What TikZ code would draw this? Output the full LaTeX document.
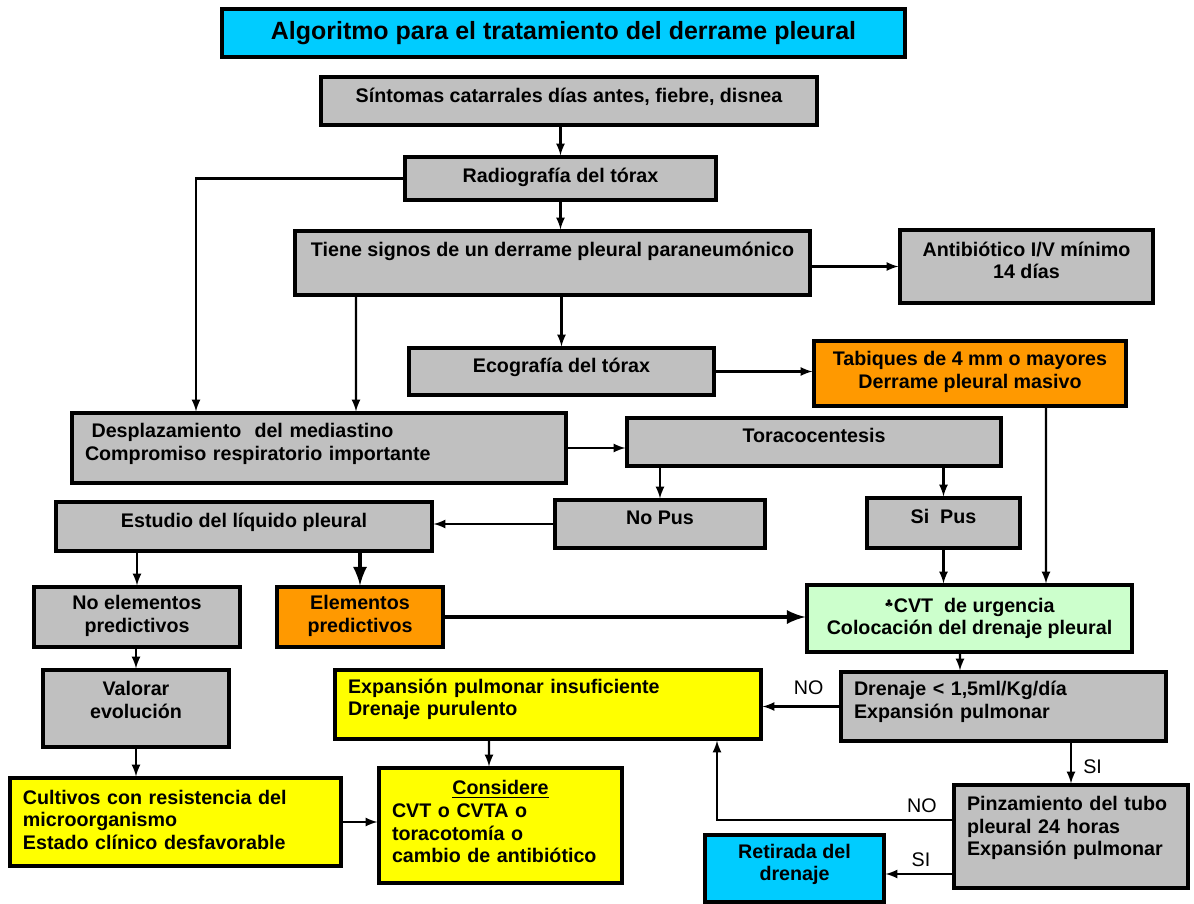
\documentclass[tikz,border=0pt]{standalone}
\usepackage{fontspec}
\setmainfont{Liberation Sans}
\newfontfamily\symbfont{DejaVu Sans}
\definecolor{boxgray}{RGB}{192,192,192}
\definecolor{boxcyan}{RGB}{0,204,255}
\definecolor{boxorange}{RGB}{255,153,0}
\definecolor{boxyellow}{RGB}{255,255,0}
\definecolor{boxgreen}{RGB}{204,255,204}
\tikzset{
  box/.style={draw, line width=1.8pt, fill=boxgray, inner xsep=0.26cm, align=center,
    text depth=7pt, font=\fontsize{11.2}{12.9}\selectfont\bfseries},
  conn/.style={-latex, line width=1.3pt},
  bigconn/.style={-latex, line width=2.6pt},
  lbl/.style={font=\fontsize{11.2}{12.9}\selectfont}
}
\begin{document}
\begin{tikzpicture}
    \useasboundingbox (0,0) rectangle (23.88,-18.08);
    % boxes
    \node[box, fill=boxcyan, minimum width=13.66cm, minimum height=0.96cm, text depth=3pt,
      font=\fontsize{14.2}{16}\selectfont\bfseries] (titulo) at (11.27,-0.66)
      {Algoritmo para el tratamiento del derrame pleural};
    \node[box, minimum width=9.92cm, minimum height=0.96cm] (sintomas) at (11.38,-2.02)
      {Síntomas catarrales días antes, fiebre, disnea};
    \node[box, minimum width=6.22cm, minimum height=0.86cm, text depth=4pt] (radiografia) at (11.21,-3.57)
      {Radiografía del tórax};
    \node[box, minimum width=10.30cm, minimum height=1.28cm, text depth=16pt] (signos) at (11.05,-5.26)
      {Tiene signos de un derrame pleural paraneumónico};
    \node[box, minimum width=5.06cm, minimum height=1.46cm] (antibiotico) at (20.53,-5.33)
      {Antibiótico I/V mínimo\\14 días};
    \node[box, minimum width=6.10cm, minimum height=0.94cm] (ecografia) at (11.23,-7.43)
      {Ecografía del tórax};
    \node[box, fill=boxorange, minimum width=6.24cm, minimum height=1.30cm, text depth=4.5pt] (tabiques) at (19.40,-7.47)
      {Tabiques de 4 mm o mayores\\Derrame pleural masivo};
    \node[box, minimum width=9.88cm, minimum height=1.40cm, align=left, text width=9.36cm, text depth=20pt] (desplazamiento) at (6.38,-8.96)
      {\ Desplazamiento\ \ del mediastino\\Compromiso respiratorio importante};
    \node[box, minimum width=7.48cm, minimum height=0.96cm] (toracocentesis) at (16.28,-8.84)
      {Toracocentesis};
    \node[box, minimum width=7.52cm, minimum height=0.98cm] (estudio) at (4.88,-10.53)
      {Estudio del líquido pleural};
    \node[box, minimum width=4.20cm, minimum height=0.96cm] (nopus) at (13.20,-10.48)
      {No Pus};
    \node[box, minimum width=3.06cm, minimum height=1.00cm] (sipus) at (18.87,-10.46)
      {Si\ \ Pus};
    \node[box, minimum width=4.12cm, minimum height=1.20cm, text depth=3.5pt] (noelementos) at (2.74,-12.34)
      {No elementos\\predictivos};
    \node[box, fill=boxorange, minimum width=3.32cm, minimum height=1.20cm, text depth=3.5pt] (elementos) at (7.20,-12.34)
      {Elementos\\predictivos};
    \node[box, fill=boxgreen, minimum width=6.50cm, minimum height=1.34cm, text depth=2.4pt] (cvt) at (19.39,-12.37)
      {{\symbfont\fontsize{6}{6}\selectfont\raisebox{0.9ex}{♣}}CVT\ \ de urgencia\\Colocación del drenaje pleural};
    \node[box, minimum width=3.72cm, minimum height=1.54cm, text depth=10pt] (valorar) at (2.72,-14.17)
      {Valorar\\evolución};
    \node[box, fill=boxyellow, minimum width=8.52cm, minimum height=1.38cm, align=left, text width=8.00cm, text depth=21pt] (insuficiente) at (10.96,-14.09)
      {Expansión pulmonar insuficiente\\Drenaje purulento};
    \node[box, minimum width=6.50cm, minimum height=1.38cm, align=left, text width=5.98cm, text depth=20.4pt] (drenaje) at (20.07,-14.13)
      {Drenaje < 1,5ml/Kg/día\\Expansión pulmonar};
    \node[box, fill=boxyellow, minimum width=6.62cm, minimum height=1.76cm, align=left, text width=6.10cm, text depth=28.6pt] (cultivos) at (3.51,-16.44)
      {Cultivos con resistencia del\\microorganismo\\Estado clínico desfavorable};
    \node[box, fill=boxyellow, minimum width=4.86cm, minimum height=2.30cm, align=left, text width=4.34cm, text depth=43pt] (considere) at (10.01,-16.51)
      {\makebox[4.34cm]{\underline{Considere}}\\CVT o CVTA o\\toracotomía o\\cambio de antibiótico};
    \node[box, minimum width=4.68cm, minimum height=2.06cm, align=left, text width=4.16cm, text depth=37.8pt] (pinzamiento) at (21.42,-16.73)
      {Pinzamiento del tubo\\pleural 24 horas\\Expansión pulmonar};
    \node[box, fill=boxcyan, minimum width=3.58cm, minimum height=1.34cm] (retirada) at (15.89,-17.37)
      {Retirada del\\drenaje};
    % connectors
    \draw[conn] (sintomas.south -| radiografia.north) -- (radiografia.north);
    \draw[conn] (radiografia.south) -- (radiografia.south |- signos.north);
    \draw[conn] (radiografia.west) -| ([xshift=-2.46cm]desplazamiento.north);
    \draw[conn] ([xshift=-3.93cm]signos.south) -- ([xshift=0.74cm]desplazamiento.north);
    \draw[conn] (ecografia.north |- signos.south) -- (ecografia.north);
    \draw[conn] (signos.east |- antibiotico.west) -- (antibiotico.west);
    \draw[conn] (ecografia.east) -- (ecografia.east -| tabiques.west);
    \draw[conn] ([xshift=1.52cm]tabiques.south) -- ([xshift=1.53cm]cvt.north);
    \draw[conn] (desplazamiento.east) -- (desplazamiento.east -| toracocentesis.west);
    \draw[conn] (nopus.north |- toracocentesis.south) -- (nopus.north);
    \draw[conn] (sipus.north |- toracocentesis.south) -- (sipus.north);
    \draw[conn] (nopus.west) -- (nopus.west -| estudio.east);
    \draw[conn] (sipus.south) -- (sipus.south |- cvt.north);
    \draw[conn] (noelementos.north |- estudio.south) -- (noelementos.north);
    \draw[bigconn] (elementos.north |- estudio.south) -- (elementos.north);
    \draw[bigconn] (elementos.east) -- (elementos.east -| cvt.west);
    \draw[conn] (valorar.north |- noelementos.south) -- (valorar.north);
    \draw[conn] (valorar.south) -- (valorar.south |- cultivos.north);
    \draw[conn] (cultivos.east) -- (cultivos.east -| considere.west);
    \draw[conn] ([xshift=-1.18cm]insuficiente.south) -- ([xshift=-0.23cm]considere.north);
    \draw[conn] ([xshift=-0.19cm]cvt.south) -- ([xshift=-0.87cm]drenaje.north);
    \draw[conn] (drenaje.west) -- node[lbl, pos=0.4, above=3pt] {NO} (drenaje.west -| insuficiente.east);
    \draw[conn] (pinzamiento.north |- drenaje.south) -- node[lbl, pos=0.59, right=3pt] {SI} (pinzamiento.north);
    \draw[conn] ([yshift=0.33cm]pinzamiento.west) -| node[lbl, pos=0.065, above] {NO} ([xshift=3.38cm]insuficiente.south);
    \coordinate (retiro) at ([yshift=-0.75cm]pinzamiento.west);
    \draw[conn] (retiro) -- node[lbl, pos=0.47, above] {SI} (retiro -| retirada.east);
\end{tikzpicture}
\end{document}
